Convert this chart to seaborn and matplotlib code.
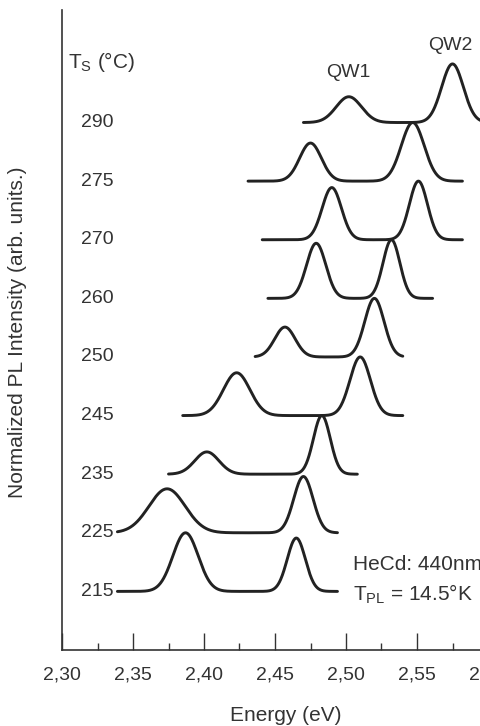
import numpy as np
import pandas as pd
import matplotlib
matplotlib.use("Agg")
import matplotlib.pyplot as plt
import seaborn as sns

# growth temperatures (bottom to top) and the two QW peaks of each PL spectrum
temps = [215, 225, 235, 245, 250, 260, 270, 275, 290]
e_start = [2.339, 2.339, 2.375, 2.385, 2.436, 2.445, 2.441, 2.431, 2.470]
e_end = [2.494, 2.494, 2.508, 2.540, 2.540, 2.561, 2.582, 2.582, 2.600]
qw1_pos = [2.387, 2.374, 2.402, 2.423, 2.457, 2.479, 2.490, 2.475, 2.502]
qw1_amp = [1.00, 0.75, 0.38, 0.73, 0.51, 0.94, 0.89, 0.65, 0.44]
qw1_fwhm = [0.021, 0.030, 0.020, 0.022, 0.017, 0.016, 0.016, 0.018, 0.021]
qw2_pos = [2.465, 2.470, 2.483, 2.510, 2.520, 2.532, 2.551, 2.547, 2.575]
qw2_amp = [0.91, 0.96, 1.00, 1.00, 1.00, 1.00, 1.00, 1.00, 1.00]
qw2_fwhm = [0.015, 0.016, 0.014, 0.017, 0.016, 0.014, 0.015, 0.019, 0.018]

xticks = [2.30, 2.35, 2.40, 2.45, 2.50, 2.55, 2.60]
xtick_labels = ["2,30", "2,35", "2,40", "2,45", "2,50", "2,55", "2,60"]

sns.set_theme(style="ticks")
plt.rcParams["font.family"] = ["Liberation Sans", "DejaVu Sans"]
plt.rcParams["mathtext.fontset"] = "custom"
plt.rcParams["mathtext.rm"] = "Liberation Sans"
plt.rcParams["mathtext.it"] = "Liberation Sans"

ink = "#222222"
txt = "#333333"


def gauss(e, pos, amp, fwhm):
    s = fwhm / 2.3548
    return amp * np.exp(-0.5 * ((e - pos) / s) ** 2)


# build long-form table of spectra
rows = []
for i, t in enumerate(temps):
    e = np.linspace(e_start[i], e_end[i], 400)
    inten = gauss(e, qw1_pos[i], qw1_amp[i], qw1_fwhm[i]) + \
        gauss(e, qw2_pos[i], qw2_amp[i], qw2_fwhm[i])
    rows.append(pd.DataFrame({"energy": e, "intensity": inten + i, "Ts": t}))
df = pd.concat(rows, ignore_index=True)

fig = plt.figure(figsize=(4.8, 7.26), dpi=100)
ax = fig.add_axes([62 / 480, 76 / 726, 426 / 480, 640 / 726])

sns.lineplot(data=df, x="energy", y="intensity", units="Ts", estimator=None,
             color=ink, linewidth=2.1, ax=ax, legend=False)

ax.set_xlim(2.30, 2.60)
ax.set_ylim(-1.0, 9.92)
ax.set_xticks(xticks)
ax.set_xticklabels(xtick_labels, fontsize=14, color=txt)
ax.set_xticks([2.325, 2.375, 2.425, 2.475, 2.525, 2.575], minor=True)
ax.tick_params(axis="x", which="major", direction="in", length=12, width=1,
               color=txt, pad=12)
ax.tick_params(axis="x", which="minor", direction="in", length=5, width=1,
               color=txt)
ax.set_yticks([])
sns.despine(ax=ax)
for s in ["left", "bottom"]:
    ax.spines[s].set_color(txt)
    ax.spines[s].set_linewidth(1.2)

ax.set_xlabel("Energy (eV)", fontsize=15, color=txt)
ax.xaxis.set_label_coords(0.526, -0.088)
ax.set_ylabel("Normalized PL Intensity (arb. units.)", fontsize=15,
              color=txt)
ax.yaxis.set_label_coords(-0.082, 0.497)

for i, t in enumerate(temps):
    ax.text(2.3134, i, str(t), fontsize=14, color=txt, ha="left",
            va="center")

ax.text(2.3042, 9.03, r"T$_\mathrm{S}$ (°C)", fontsize=15, color=txt,
        ha="left", va="center")
ax.text(2.5017, 8.86, "QW1", fontsize=14, color=txt, ha="center",
        va="center")
ax.text(2.5736, 9.32, "QW2", fontsize=14, color=txt, ha="center",
        va="center")
ax.text(2.5050, 0.46, "HeCd: 440nm", fontsize=15, color=txt, ha="left",
        va="center")
ax.text(2.5050, -0.05, r"T$_\mathrm{PL}$ = 14.5°K", fontsize=15, color=txt,
        ha="left", va="center")

fig.savefig("out.png", dpi=100)
